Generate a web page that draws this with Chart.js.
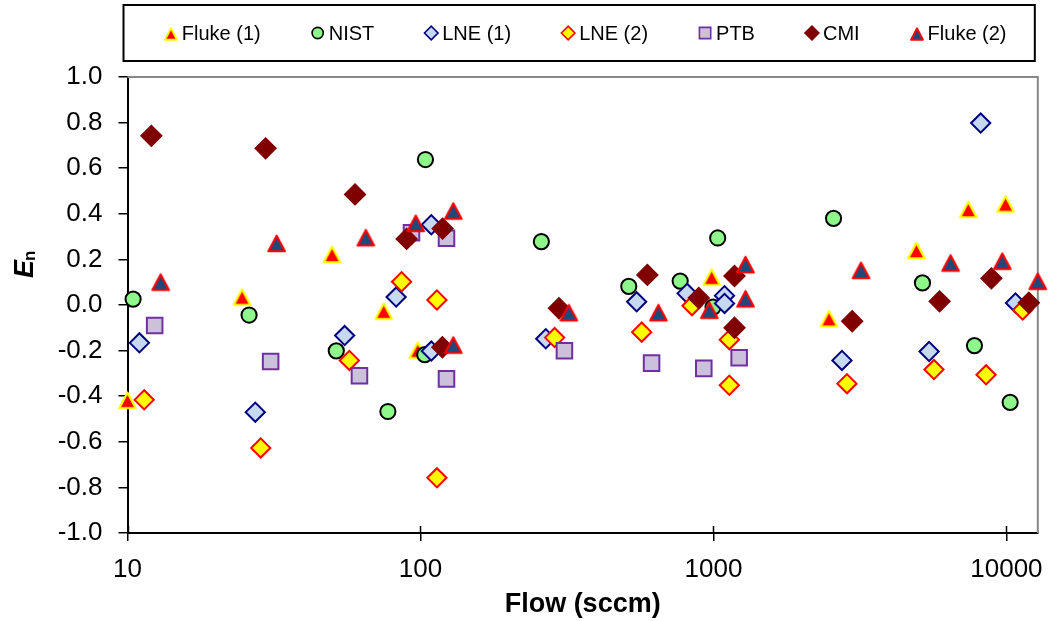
<!DOCTYPE html>
<html>
<head>
<meta charset="utf-8">
<script src="https://cdn.jsdelivr.net/npm/chart.js@4.4.1/dist/chart.umd.min.js"></script>
<style>
html,body{margin:0;padding:0;background:#fff;}
#wrap{width:1056px;height:621px;}
</style>
</head>
<body>
<div id="wrap"><canvas id="c" width="1056" height="621"></canvas></div>
<script>
// ---- data ----
const seriesNames = ['Fluke (1)', 'NIST', 'LNE (1)', 'LNE (2)', 'PTB', 'CMI', 'Fluke (2)'];

const fluke1Flow = [10.0, 24.6, 49.9, 74.9, 97.9, 986, 2480, 4930, 7410, 9930];
const fluke1En   = [-0.416, 0.037, 0.224, -0.025, -0.196, 0.124, -0.058, 0.241, 0.421, 0.445];

const nistFlow = [10.45, 26.0, 51.6, 77.4, 103.4, 104, 258.6, 514, 770, 997, 1034, 2570, 5170, 7780, 10300];
const nistEn   = [0.026, -0.044, -0.201, -0.467, -0.218, 0.638, 0.278, 0.082, 0.105, -0.009, 0.294, 0.380, 0.097, -0.178, -0.427];

const lne1Flow = [10.98, 27.3, 55.1, 82.6, 108.9, 108.9, 267.7, 547, 813, 1091, 1091, 2746, 5447, 8170, 10740];
const lne1En   = [-0.166, -0.470, -0.134, 0.035, 0.352, -0.202, -0.148, 0.014, 0.051, 0.041, 0.007, -0.243, -0.204, 0.798, 0.009];

const lne2Flow = [11.4, 28.5, 57.2, 86.2, 113.8, 113.8, 287, 569, 845, 1133, 1133, 2856, 5660, 8523, 11360];
const lne2En   = [-0.416, -0.627, -0.243, 0.102, 0.022, -0.758, -0.143, -0.119, -0.003, -0.152, -0.352, -0.345, -0.283, -0.306, -0.022];

const ptbFlow = [12.38, 30.8, 61.9, 93.2, 122.7, 122.7, 310, 615, 927, 1224];
const ptbEn   = [-0.090, -0.248, -0.310, 0.317, 0.293, -0.324, -0.201, -0.255, -0.278, -0.231];

const cmiFlow = [12.06, 29.6, 59.8, 89.7, 119, 118.8, 297, 595, 891, 1180, 1180, 2976, 5915, 8886, 11930];
const cmiEn   = [0.742, 0.687, 0.485, 0.290, 0.335, -0.185, -0.014, 0.132, 0.031, 0.127, -0.100, -0.071, 0.016, 0.117, 0.010];

const fluke2Flow = [12.98, 32.3, 65.1, 96.4, 129.4, 129.4, 321, 649, 968, 1287, 1287, 3190, 6450, 9680, 12800];
const fluke2En   = [0.102, 0.272, 0.297, 0.360, 0.414, -0.174, -0.032, -0.032, -0.021, 0.179, 0.029, 0.154, 0.186, 0.194, 0.106];

const xTickValues = [10, 100, 1000, 10000];
const xTickLabels = ['10', '100', '1000', '10000'];
const yTickValues = [-1.0, -0.8, -0.6, -0.4, -0.2, 0.0, 0.2, 0.4, 0.6, 0.8, 1.0];
const yTickLabels = ['-1.0', '-0.8', '-0.6', '-0.4', '-0.2', '0.0', '0.2', '0.4', '0.6', '0.8', '1.0'];

// ---- styling ----
const FONT = "'Liberation Sans', Arial, sans-serif";

function triImg(fill, stroke, w, h, lw) {
  const c = document.createElement('canvas');
  c.width = Math.round(w + lw * 2 + 4);
  c.height = Math.round(h + lw * 2 + 6);
  const g = c.getContext('2d');
  const cx = c.width / 2, cy = c.height / 2 + 0.5;
  g.beginPath();
  g.moveTo(cx, cy - h / 2);
  g.lineTo(cx + w / 2, cy + h / 2);
  g.lineTo(cx - w / 2, cy + h / 2);
  g.closePath();
  g.fillStyle = fill; g.fill();
  g.lineWidth = lw; g.strokeStyle = stroke; g.lineJoin = 'round'; g.stroke();
  return c;
}

const tri1 = triImg('#FF0000', '#FFFF00', 16.5, 15.5, 2.2);
const tri2 = triImg('#1F497D', '#FF0000', 16.5, 15.5, 2.2);
const tri1L = triImg('#FF0000', '#FFFF00', 12, 11.5, 1.8);
const tri2L = triImg('#1F497D', '#FF0000', 12, 11.5, 1.8);

function pts(xs, ys) { return xs.map((v, i) => ({x: v, y: ys[i]})); }

const styles = [
  {style: tri1, legend: tri1L, bg: '#FF0000', bd: '#FFFF00', r: 10, bw: 0, lr: 7},
  {style: 'circle', bg: '#8EF98A', bd: '#000000', r: 7.6, bw: 2, lr: 5.6},
  {style: 'rectRot', bg: '#C6D9F0', bd: '#000080', r: 9.6, bw: 2, lr: 6.8},
  {style: 'rectRot', bg: '#FFFF00', bd: '#FF0000', r: 9.6, bw: 2, lr: 6.8},
  {style: 'rect', bg: '#CCC1DA', bd: '#7030A0', r: 11, bw: 2, lr: 8},
  {style: 'rectRot', bg: '#800000', bd: '#800000', r: 10.6, bw: 1.2, lr: 7.2},
  {style: tri2, legend: tri2L, bg: '#1F497D', bd: '#FF0000', r: 10, bw: 0, lr: 7}
];

const dataPairs = [
  [fluke1Flow, fluke1En], [nistFlow, nistEn], [lne1Flow, lne1En], [lne2Flow, lne2En],
  [ptbFlow, ptbEn], [cmiFlow, cmiEn], [fluke2Flow, fluke2En]
];

const datasets = dataPairs.map((p, i) => ({
  label: seriesNames[i],
  data: pts(p[0], p[1]),
  pointStyle: styles[i].style,
  pointRadius: styles[i].r,
  pointHoverRadius: styles[i].r,
  pointBackgroundColor: styles[i].bg,
  pointBorderColor: styles[i].bd,
  pointBorderWidth: styles[i].bw,
  showLine: false,
  clip: false,
  order: seriesNames.length - i
}));

const decor = {
  id: 'decor',
  beforeDatasetsDraw(chart) {
    const {ctx, chartArea: a, scales: {x}} = chart;
    ctx.save();
    // grey top/right plot border
    ctx.strokeStyle = '#878787';
    ctx.lineWidth = 2;
    ctx.beginPath();
    ctx.moveTo(a.left, a.top);
    ctx.lineTo(a.right, a.top);
    ctx.lineTo(a.right, a.bottom);
    ctx.stroke();
    // inside part of crossing x ticks
    ctx.strokeStyle = '#000';
    ctx.lineWidth = 1.5;
    ctx.beginPath();
    x.ticks.forEach(t => {
      const px = Math.round(x.getPixelForValue(t.value)) + 0.5;
      ctx.moveTo(px, a.bottom);
      ctx.lineTo(px, a.bottom - 7);
    });
    ctx.stroke();
    ctx.restore();
  },
  afterDraw(chart) {
    const {ctx, chartArea: a} = chart;
    ctx.save();
    // legend box
    const boxL = a.left - 4, boxR = a.right - 3, boxT = 5, boxB = 61;
    ctx.strokeStyle = '#000';
    ctx.lineWidth = 2;
    ctx.strokeRect(boxL, boxT, boxR - boxL, boxB - boxT);
    // legend items
    ctx.font = '20px ' + FONT;
    const gapText = 11, gapItem = 57, half = 6;
    const widths = seriesNames.map(n => ctx.measureText(n).width);
    let total = half;
    widths.forEach((w, i) => { total += gapText + w + (i < widths.length - 1 ? gapItem : 0); });
    const cyL = (boxT + boxB) / 2;
    let cx = (a.left + a.right) / 2 + 3 - total / 2 + half;
    ctx.textBaseline = 'middle';
    ctx.textAlign = 'left';
    seriesNames.forEach((n, i) => {
      const s = styles[i];
      if (s.legend) {
        ctx.drawImage(s.legend, Math.round(cx - s.legend.width / 2), Math.round(cyL - s.legend.height / 2));
      } else {
        ctx.fillStyle = s.bg;
        ctx.strokeStyle = s.bd;
        ctx.lineWidth = Math.min(s.bw, 1.6);
        Chart.helpers.drawPoint(ctx, {pointStyle: s.style, radius: s.lr, rotation: 0, borderWidth: Math.min(s.bw, 1.6)}, cx, cyL);
      }
      ctx.fillStyle = '#000';
      ctx.fillText(n, cx + gapText, cyL + 1);
      cx += gapText + widths[i] + gapItem;
    });
    // y axis title E_n (rotated)
    ctx.translate(33, 278);
    ctx.rotate(-Math.PI / 2);
    ctx.textBaseline = 'alphabetic';
    ctx.fillStyle = '#000';
    ctx.font = 'italic bold 27px ' + FONT;
    ctx.fillText('E', 0, 0);
    const ew = ctx.measureText('E').width;
    ctx.font = 'bold 17px ' + FONT;
    ctx.fillText('n', ew - 1, 2);
    ctx.restore();
  }
};

new Chart(document.getElementById('c'), {
  type: 'scatter',
  data: {datasets},
  options: {
    responsive: false,
    animation: false,
    devicePixelRatio: 1,
    layout: {padding: {top: 77, left: 0, right: 13, bottom: 0}},
    plugins: {legend: {display: false}, tooltip: {enabled: false}},
    scales: {
      x: {
        type: 'logarithmic',
        min: 10,
        max: 12800,
        afterBuildTicks(scale) { scale.ticks = xTickValues.map(v => ({value: v})); },
        afterFit(scale) { scale.height = 88; },
        ticks: {
          font: {family: FONT, size: 26},
          color: '#000',
          padding: 13,
          maxRotation: 0,
          autoSkip: false,
          callback(v) { const k = xTickValues.indexOf(v); return k >= 0 ? xTickLabels[k] : ''; }
        },
        grid: {display: true, drawOnChartArea: false, drawTicks: true, tickLength: 8, color: '#000', lineWidth: 1.5},
        border: {display: true, color: '#000', width: 2},
        title: {display: true, text: 'Flow (sccm)', color: '#000', font: {family: FONT, size: 27, weight: 'bold'}, padding: {top: 0, bottom: 0.5}}
      },
      y: {
        min: -1,
        max: 1,
        afterBuildTicks(scale) { scale.ticks = yTickValues.map(v => ({value: v})); },
        afterFit(scale) { scale.width = 127.5; },
        ticks: {
          font: {family: FONT, size: 26},
          color: '#000',
          padding: 16,
          autoSkip: false,
          callback(v) {
            let k = -1;
            yTickValues.forEach((t, i) => { if (Math.abs(t - v) < 1e-9) k = i; });
            return k >= 0 ? yTickLabels[k] : '';
          }
        },
        grid: {display: true, drawOnChartArea: false, drawTicks: true, tickLength: 9, color: '#000', lineWidth: 1.5},
        border: {display: true, color: '#000', width: 2}
      }
    }
  },
  plugins: [decor]
});
</script>
</body>
</html>
